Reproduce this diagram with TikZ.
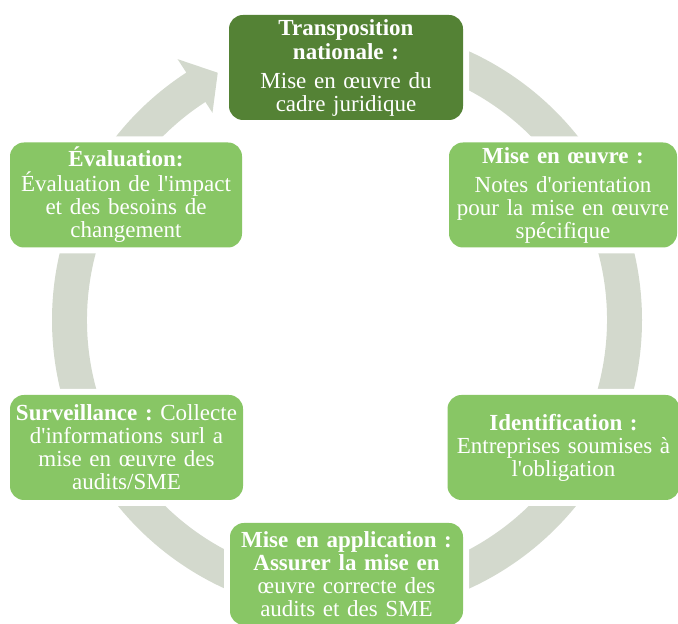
\documentclass[tikz,border=0pt]{standalone}
\usepackage{fontspec}
\setmainfont{Liberation Serif}
\usepackage{xcolor}
\definecolor{darkleaf}{HTML}{548235}
\definecolor{leafgreen}{HTML}{88C665}
\definecolor{ringgray}{HTML}{D3D9CD}

\begin{document}
\begin{tikzpicture}[x=1pt,y=1pt,
  every node/.style={font=\fontsize{23}{23}\selectfont, text=white, align=center},
  stagebox/.style={rounded corners=14pt, fill=leafgreen, inner sep=2pt,
    minimum height=105pt, preaction={draw=white, line width=12pt}}]
\useasboundingbox (0,0) rectangle (678,624);
\begin{scope}[shift={(347,304)}]
\fill[ringgray] (90:295) arc[start angle=90, end angle=-237, radius=295]
  -- (-237:311) -- (-242.4:279) -- (-237:247) -- (-237:260)
  arc[start angle=-237, end angle=90, radius=260] -- cycle;
\end{scope}
\node[stagebox, fill=darkleaf, text width=230pt] (transpo) at (346,556.5)
  {\textbf{Transposition}\\[1pt]\textbf{nationale :}\\[6pt]Mise en œuvre du\\cadre juridique};
\node[stagebox, text width=224pt] (oeuvre) at (563,429)
  {\textbf{Mise en œuvre :}\\[6pt]Notes d\textquotesingle orientation\\pour la mise en œuvre\\spécifique};
\node[stagebox, text width=228pt] (ident) at (563.5,176.5)
  {\textbf{Identification :}\\Entreprises soumises à\\l\textquotesingle obligation};
\node[stagebox, text width=229pt, minimum height=102pt] (applic) at (346.5,50)
  {\textbf{Mise en application :}\\\textbf{Assurer la mise en}\\œuvre correcte des\\audits et des SME};
\node[stagebox, text width=229pt] (surveil) at (126.5,176.5)
  {\mbox{\textbf{Surveillance :}\ Collecte}\\d\textquotesingle informations surl a\\mise en œuvre des\\audits/SME};
\node[stagebox, text width=228pt] (evalu) at (126,429)
  {\textbf{Évaluation:}\\[2pt]Évaluation de l\textquotesingle impact\\et des besoins de\\changement};
\end{tikzpicture}
\end{document}
